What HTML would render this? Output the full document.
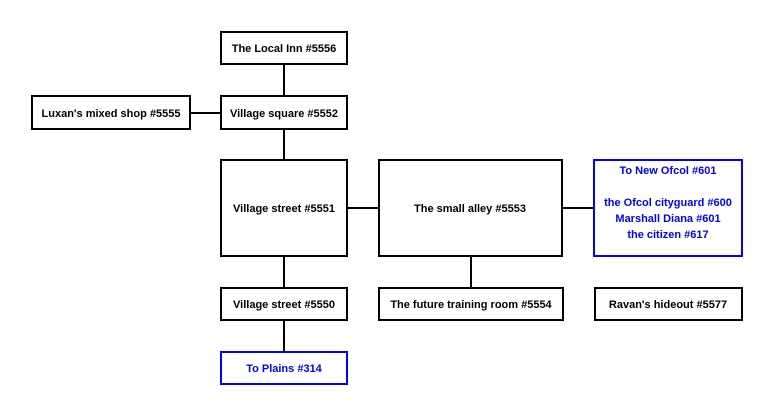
<!DOCTYPE html>
<html><head><meta charset="utf-8"><style>
html,body{margin:0;padding:0;background:#fff;}
svg{display:block}
text{font-family:"Liberation Sans",sans-serif;font-size:11px;font-weight:bold;text-anchor:middle;}
</style></head><body>
<svg width="773" height="416" viewBox="0 0 773 416" xmlns="http://www.w3.org/2000/svg">
<g stroke="#000" stroke-width="2" fill="none">
<line x1="284" y1="64" x2="284" y2="96"/>
<line x1="190" y1="113" x2="221" y2="113"/>
<line x1="284" y1="129" x2="284" y2="160"/>
<line x1="347" y1="208" x2="379" y2="208"/>
<line x1="562" y1="208" x2="594" y2="208"/>
<line x1="284" y1="256" x2="284" y2="288"/>
<line x1="471" y1="256" x2="471" y2="288"/>
<line x1="284" y1="320" x2="284" y2="352"/>
<rect x="221" y="32" width="126" height="32"/>
<rect x="32" y="96" width="158" height="33"/>
<rect x="221" y="96" width="126" height="33"/>
<rect x="221" y="160" width="126" height="96"/>
<rect x="379" y="160" width="183" height="96"/>
<rect x="221" y="288" width="126" height="32"/>
<rect x="379" y="288" width="184" height="32"/>
<rect x="595" y="288" width="147" height="32"/>
</g>
<g stroke="#0000ff" stroke-width="2" fill="none">
<rect x="594" y="160" width="148" height="96"/>
<rect x="221" y="352" width="126" height="32"/>
</g>
<g fill="#000">
<text x="284" y="52">The Local Inn #5556</text>
<text x="111" y="117">Luxan's mixed shop #5555</text>
<text x="284" y="117">Village square #5552</text>
<text x="284" y="212">Village street #5551</text>
<text x="470" y="212">The small alley #5553</text>
<text x="284" y="308">Village street #5550</text>
<text x="471" y="308">The future training room #5554</text>
<text x="668" y="308">Ravan's hideout #5577</text>
</g>
<g fill="#0000ff">
<text x="284" y="372">To Plains #314</text>
<text x="668" y="174">To New Ofcol #601</text>
<text x="668" y="206">the Ofcol cityguard #600</text>
<text x="668" y="222">Marshall Diana #601</text>
<text x="668" y="238">the citizen #617</text>
</g>
</svg>
</body></html>
